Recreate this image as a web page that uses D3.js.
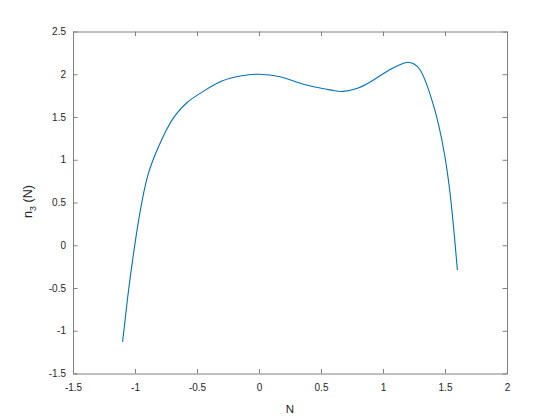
<!DOCTYPE html>
<html>
<head>
<meta charset="utf-8">
<script src="https://cdn.jsdelivr.net/npm/d3@7"></script>
<style>
  body { margin: 0; background: #fff; }
  text { font-family: "Liberation Sans", Arial, sans-serif; }
</style>
</head>
<body>
<script>
// curve
const nVals = [-1.1, -1.06, -1.02, -0.98, -0.94, -0.89, -0.82, -0.75, -0.68, -0.58, -0.45, -0.3, -0.15, 0, 0.17, 0.3, 0.45, 0.6, 0.68, 0.8, 0.92, 1.05, 1.15, 1.2, 1.25, 1.3, 1.35, 1.4, 1.45, 1.5, 1.55, 1.6];
const n3Vals = [-1.13, -0.62, -0.18, 0.21, 0.54, 0.85, 1.12, 1.34, 1.51, 1.67, 1.80, 1.92, 1.98, 2.0, 1.97, 1.91, 1.85, 1.81, 1.80, 1.84, 1.93, 2.05, 2.12, 2.14, 2.12, 2.05, 1.89, 1.67, 1.40, 1.03, 0.49, -0.29];
const xTicks = [-1.5, -1, -0.5, 0, 0.5, 1, 1.5, 2];
const yTicks = [-1.5, -1, -0.5, 0, 0.5, 1, 1.5, 2, 2.5];

const W = 560, H = 420;
const padL = 73, padT = 31.5, padR = 507, padB = 373.5;
const tickLen = 4.5;
const axisColor = "#808080", textColor = "#262626";

const svg = d3.select("body").append("svg")
    .attr("width", W)
    .attr("height", H);

const x = d3.scaleLinear().domain([-1.5, 2]).range([padL, padR]);
const y = d3.scaleLinear().domain([-1.5, 2.5]).range([padB, padT]);

const fmt = d => String(d);

// axes, ticks pointing inward like matlab
function drawAxis(axis, tx, ty) {
    const g = svg.append("g")
        .attr("transform", "translate(" + tx + "," + ty + ")")
        .call(axis);
    g.select(".domain").attr("stroke", axisColor).attr("stroke-width", 1);
    g.selectAll(".tick line").attr("stroke", axisColor);
    g.selectAll(".tick text").attr("fill", textColor).attr("font-size", 10);
    return g;
}

drawAxis(d3.axisBottom(x).tickValues(xTicks).tickFormat(fmt).tickSizeInner(-tickLen).tickSizeOuter(0).tickPadding(10), 0, padB);
drawAxis(d3.axisTop(x).tickValues(xTicks).tickFormat("").tickSizeInner(-tickLen).tickSizeOuter(0), 0, padT);
drawAxis(d3.axisLeft(y).tickValues(yTicks).tickFormat(fmt).tickSizeInner(-tickLen).tickSizeOuter(0).tickPadding(7), padL, 0);
drawAxis(d3.axisRight(y).tickValues(yTicks).tickFormat("").tickSizeInner(-tickLen).tickSizeOuter(0), padR, 0);

// the curve
const pts = nVals.map((v, i) => [v, n3Vals[i]]);
const line = d3.line()
    .x(d => x(d[0]))
    .y(d => y(d[1]))
    .curve(d3.curveNatural);

svg.append("path")
    .datum(pts)
    .attr("fill", "none")
    .attr("stroke", "#0072BD")
    .attr("stroke-width", 1.1)
    .attr("d", line);

// axis labels
svg.append("text")
    .attr("x", (padL + padR) / 2)
    .attr("y", 412.5)
    .attr("text-anchor", "middle")
    .attr("font-size", 11.5)
    .attr("fill", textColor)
    .text("N");

const yl = svg.append("text")
    .attr("transform", "translate(31.5," + ((padT + padB) / 2 - 1) + ") rotate(-90)")
    .attr("text-anchor", "middle")
    .attr("font-size", 12.5)
    .attr("fill", textColor);
yl.append("tspan").text("n");
yl.append("tspan").attr("font-size", 9).attr("dy", 4).text("3");
yl.append("tspan").attr("dy", -4).text(" (N)");
</script>
</body>
</html>
